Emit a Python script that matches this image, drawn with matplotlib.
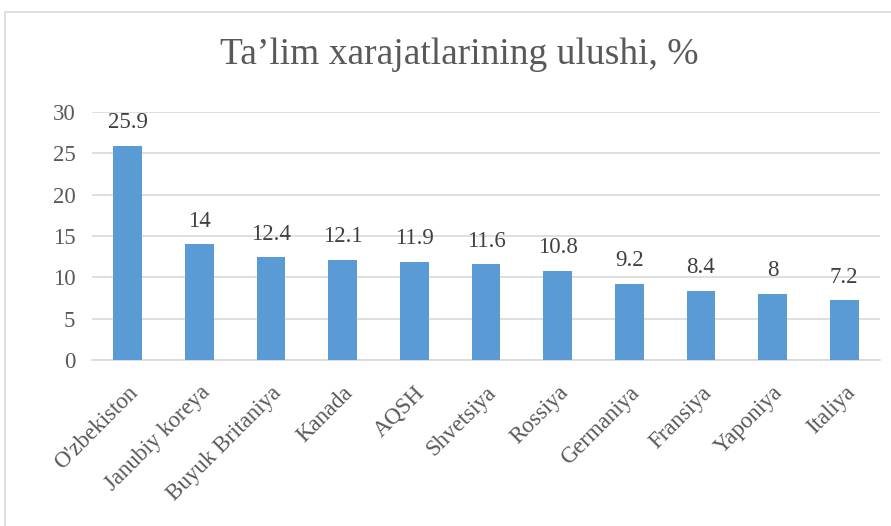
import matplotlib.pyplot as plt
from matplotlib.patches import Rectangle

countries = ["O'zbekiston", "Janubiy koreya", "Buyuk Britaniya", "Kanada", "AQSH",
             "Shvetsiya", "Rossiya", "Germaniya", "Fransiya", "Yaponiya", "Italiya"]
shares = [25.9, 14, 12.4, 12.1, 11.9, 11.6, 10.8, 9.2, 8.4, 8, 7.2]
yticks = [0, 5, 10, 15, 20, 25, 30]

plt.rcParams['font.family'] = ['Liberation Serif', 'DejaVu Serif']
txt = '#595959'

fig = plt.figure(figsize=(8.91, 5.26), dpi=100)
# chart border
fig.patches.append(Rectangle((5 / 891, -0.01), 1.0, 1 - 12 / 526 + 0.01,
                             transform=fig.transFigure, fill=False,
                             edgecolor='#d9d9d9', linewidth=1.2))

ax = fig.add_axes([92 / 891, 1 - 360 / 526, 788 / 891, 248 / 526])
x = range(len(countries))
ax.bar(x, shares, width=0.4, color='#5b9bd5', zorder=3)
for i, v in zip(x, shares):
    ax.annotate('{:g}'.format(v), (i, v), xytext=(0, 9), textcoords='offset points',
                ha='center', va='bottom', fontsize=16.5, color='#404040')

ax.set_xlim(-0.5, len(countries) - 0.5)
ax.set_ylim(0, 30)
ax.set_yticks(yticks)
ax.grid(axis='y', color='#d9d9d9', linewidth=1.2, zorder=0)
for s in ['top', 'right', 'left']:
    ax.spines[s].set_visible(False)
ax.spines['bottom'].set_color('#d9d9d9')
ax.spines['bottom'].set_linewidth(1.2)
ax.tick_params(axis='both', length=0, labelsize=16.5, labelcolor=txt)
ax.tick_params(axis='y', pad=12)
ax.set_xticks(list(x))
ax.set_xticklabels(countries, rotation=45, ha='right', rotation_mode='anchor')
ax.tick_params(axis='x', pad=16)

fig.text(0.515, 1 - 55 / 526, "Ta\u2019lim xarajatlarining ulushi, %", ha='center', va='center',
         fontsize=27, color=txt)

fig.savefig('out.png', dpi=100)
